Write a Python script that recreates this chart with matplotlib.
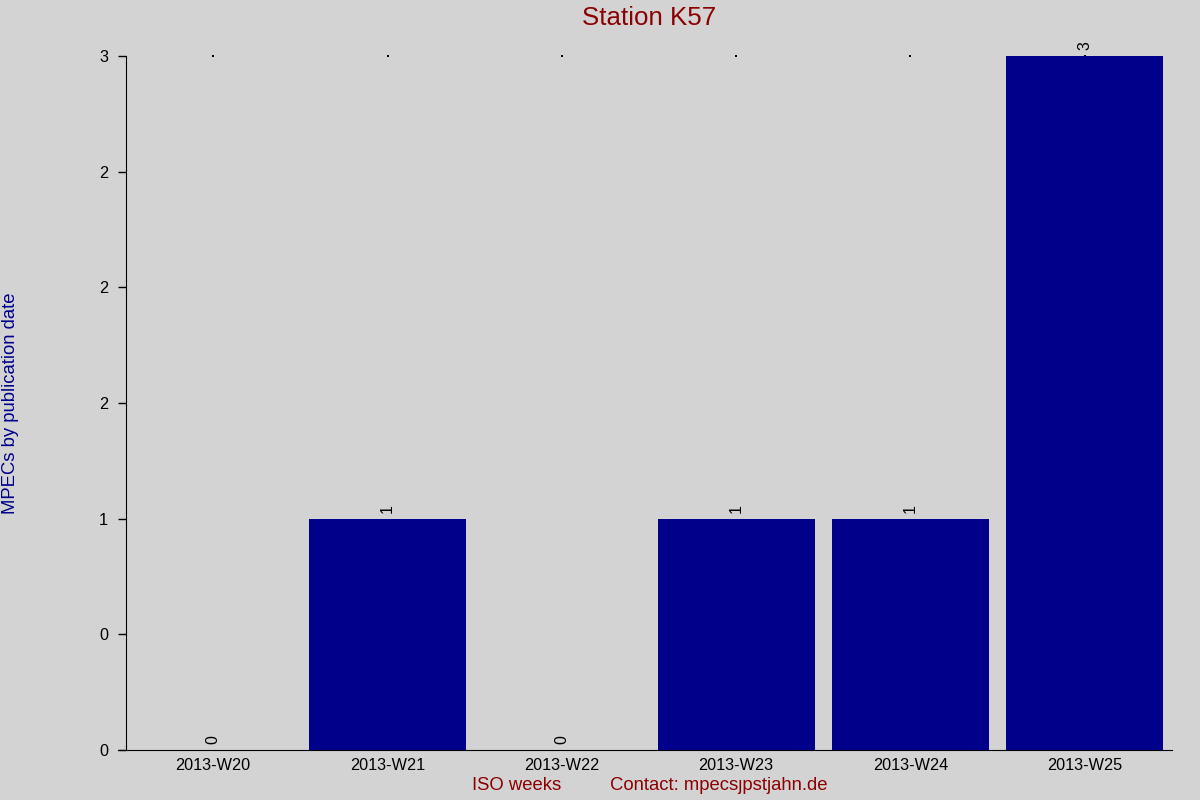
import matplotlib
matplotlib.use("Agg")
import matplotlib.pyplot as plt

categories = ["2013-W20", "2013-W21", "2013-W22", "2013-W23", "2013-W24", "2013-W25"]
values = [0, 1, 0, 1, 1, 3]
ytick_values = [0, 0.5, 1, 1.5, 2, 2.5, 3]
ytick_labels = ["0", "0", "1", "2", "2", "2", "3"]

plt.rcParams['font.family'] = ['Liberation Sans', 'DejaVu Sans']

bg = "#d3d3d3"
fig = plt.figure(figsize=(12, 8), dpi=100, facecolor=bg)
ax = fig.add_axes([126/1200, 50/800, (1172-126)/1200, (750-56)/800], facecolor=bg)

x = list(range(len(categories)))
bars = ax.bar(x, values, width=0.9, color="#00008b", zorder=2)
ax.scatter(x, [max(values)] * len(x), s=1.2, color="black", zorder=1, marker='s',
           linewidths=0, clip_on=False)

for xi, v in zip(x, values):
    ax.annotate(str(v), (xi, v), xytext=(0, 4), textcoords="offset points",
                rotation=90, ha="center", va="bottom", fontsize=11.5, color="black")

ax.set_xlim(-0.5, len(categories) - 0.5)
ax.set_ylim(0, 3)
ax.set_xticks(x)
ax.set_xticklabels(categories, fontsize=11.7)
ax.set_yticks(ytick_values)
ax.set_yticklabels(ytick_labels, fontsize=11.7)
ax.tick_params(axis='x', length=0, pad=6)
ax.tick_params(axis='y', length=6, width=1, pad=7, direction='out')

for s in ["top", "right"]:
    ax.spines[s].set_visible(False)
ax.spines["left"].set_color("black")
ax.spines["bottom"].set_color("black")
ax.spines["bottom"].set_bounds(-0.5 - 8/174.5, len(categories) - 0.5)

fig.text(649/1200, 1 - 18/800, "Station K57", ha="center", va="center",
         fontsize=18.6, color="#8b0000")
fig.text(11/1200, 1 - 403/800, "MPECs by publication date", rotation=90,
         ha="center", va="center", fontsize=13.3, color="#00008b")
fig.text(517/1200, 1 - 786/800, "ISO weeks", ha="center", va="center",
         fontsize=13.3, color="#8b0000")
fig.text(719/1200, 1 - 786/800, "Contact: mpecs\u0237pstjahn.de", ha="center", va="center",
         fontsize=13.3, color="#8b0000")

fig.savefig("out.png", dpi=100, facecolor=bg)
